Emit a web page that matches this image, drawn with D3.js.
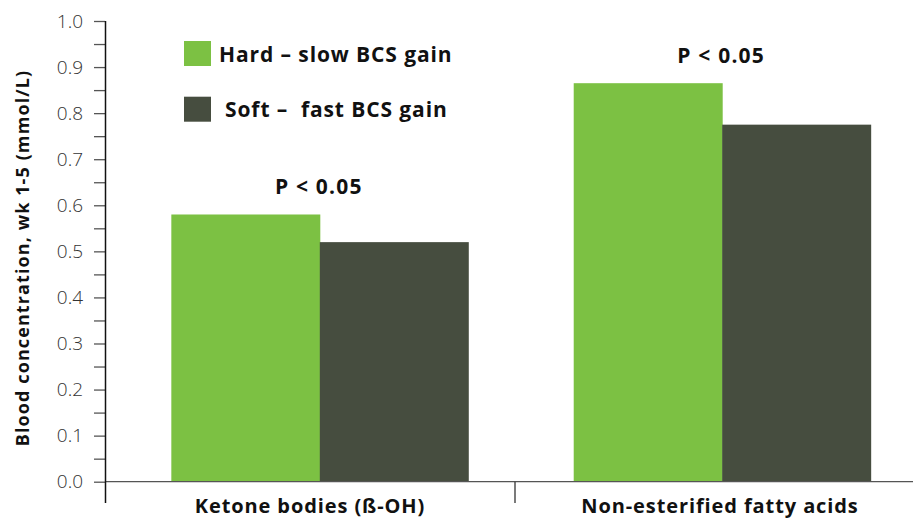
<!DOCTYPE html>
<html>
<head>
<meta charset="utf-8">
<script src="https://cdn.jsdelivr.net/npm/d3@7"></script>
<style>
    body { margin: 0; background: #fff; }
    svg { display: block; }
</style>
</head>
<body>
<svg id="chart" width="913" height="519"></svg>
<script>
// Chart data.
const categories = ["Ketone bodies (ß-OH)", "Non-esterified fatty acids"];
const series = ["Hard – slow BCS gain", "Soft –  fast BCS gain"];
const hardValues = [0.58, 0.865];
const softValues = [0.52, 0.775];
const pLabels = ["P < 0.05", "P < 0.05"];
const yTicks = d3.range(0, 21).map(i => i * 0.05);

// Display parameters.
let colours = ["#7cc143", "#464d3f"];
let fontFamily = "'Open Sans', 'Noto Sans', sans-serif";

let svg = d3.select("#chart");

// Scales.
let y = d3.scaleLinear()
    .domain([0, 1])
    .range([481.7, 21]);

// Category bands used for the separator ticks and labels.
let x0 = d3.scaleBand()
    .domain(categories)
    .range([105, 925]);

// Bar groups sit a little off-centre within their bands.
let xGroup = d3.scaleBand()
    .domain(categories)
    .range([117, 925])
    .paddingInner(0.262)
    .paddingOuter(0.135);

let x1 = d3.scaleBand()
    .domain(series)
    .range([0, xGroup.bandwidth()]);

// Y axis with a tick every 0.05 and a label every 0.1.
let yAxis = svg.append("g")
    .attr("transform", "translate(105,0)")
    .call(d3.axisLeft(y)
        .tickValues(yTicks)
        .tickSize(11)
        .tickPadding(11)
        .tickFormat(function(d) {
            return Math.round(d * 100) % 10 === 0 ? d.toFixed(1) : "";
        }));

yAxis.select(".domain").remove();
yAxis.selectAll(".tick line")
    .attr("stroke", "#555")
    .attr("stroke-width", 1.3);
yAxis.selectAll(".tick text")
    .attr("fill", "#333")
    .style("font-family", fontFamily)
    .style("font-weight", 300)
    .style("font-size", "19px");

// Bars.
let groups = svg.append("g")
    .selectAll("g")
    .data(categories)
    .enter()
    .append("g")
    .attr("transform", function(d) {
        return `translate(${xGroup(d)},0)`;
    });

groups.selectAll("rect")
    .data(function(d, i) {
        return [
            {series: series[0], value: hardValues[i]},
            {series: series[1], value: softValues[i]}
        ];
    })
    .enter()
    .append("rect")
    .attr("x", function(d) { return x1(d.series); })
    .attr("width", x1.bandwidth() + 0.5)
    .attr("y", function(d) { return y(d.value); })
    .attr("height", function(d) { return y(0) - y(d.value); })
    .attr("fill", function(d, i) { return colours[i]; });

// Significance labels above each pair.
groups.append("text")
    .attr("x", xGroup.bandwidth() / 2 - 1)
    .attr("y", function(d, i) {
        return y(Math.max(hardValues[i], softValues[i])) - 20;
    })
    .attr("text-anchor", "middle")
    .style("font-family", fontFamily)
    .style("font-weight", 700)
    .style("font-size", "21px")
    .style("letter-spacing", "1.2px")
    .attr("fill", "#111")
    .text(function(d, i) { return pLabels[i]; });

// X axis baseline and category separators.
svg.append("line")
    .attr("x1", 105).attr("x2", 913)
    .attr("y1", y(0)).attr("y2", y(0))
    .attr("stroke", "#555")
    .attr("stroke-width", 1.3);

svg.append("line")
    .attr("x1", 105.5).attr("x2", 105.5)
    .attr("y1", y(1)).attr("y2", 503)
    .attr("stroke", "#111")
    .attr("stroke-width", 1.5);

svg.append("line")
    .attr("x1", x0(categories[1])).attr("x2", x0(categories[1]))
    .attr("y1", y(0)).attr("y2", 503)
    .attr("stroke", "#333")
    .attr("stroke-width", 1.3);

// Category labels.
svg.append("g")
    .selectAll("text")
    .data(categories)
    .enter()
    .append("text")
    .attr("x", function(d) { return x0(d) + x0.bandwidth() / 2; })
    .attr("y", 513)
    .attr("text-anchor", "middle")
    .style("font-family", fontFamily)
    .style("font-weight", 700)
    .style("font-size", "20px")
    .style("letter-spacing", "0.9px")
    .attr("fill", "#111")
    .text(function(d) { return d; });

// Y axis title.
svg.append("text")
    .attr("transform", "translate(29,258) rotate(-90)")
    .attr("text-anchor", "middle")
    .style("font-family", fontFamily)
    .style("font-weight", 700)
    .style("font-size", "18px")
    .style("letter-spacing", "1.1px")
    .attr("fill", "#111")
    .text("Blood concentration, wk 1-5 (mmol/L)");

// Legend.
let legend = svg.append("g")
    .selectAll("g")
    .data(series)
    .enter()
    .append("g")
    .attr("transform", function(d, i) {
        return `translate(184,${41 + i * 55.7})`;
    });

legend.append("rect")
    .attr("width", 27)
    .attr("height", 25)
    .attr("fill", function(d, i) { return colours[i]; });

legend.append("text")
    .attr("x", function(d, i) { return i === 0 ? 35 : 41; })
    .attr("y", 20.7)
    .style("font-family", fontFamily)
    .style("font-weight", 700)
    .style("font-size", "21px")
    .style("letter-spacing", "0.9px")
    .style("white-space", "pre")
    .attr("fill", "#111")
    .text(function(d) { return d; });
</script>
</body>
</html>
